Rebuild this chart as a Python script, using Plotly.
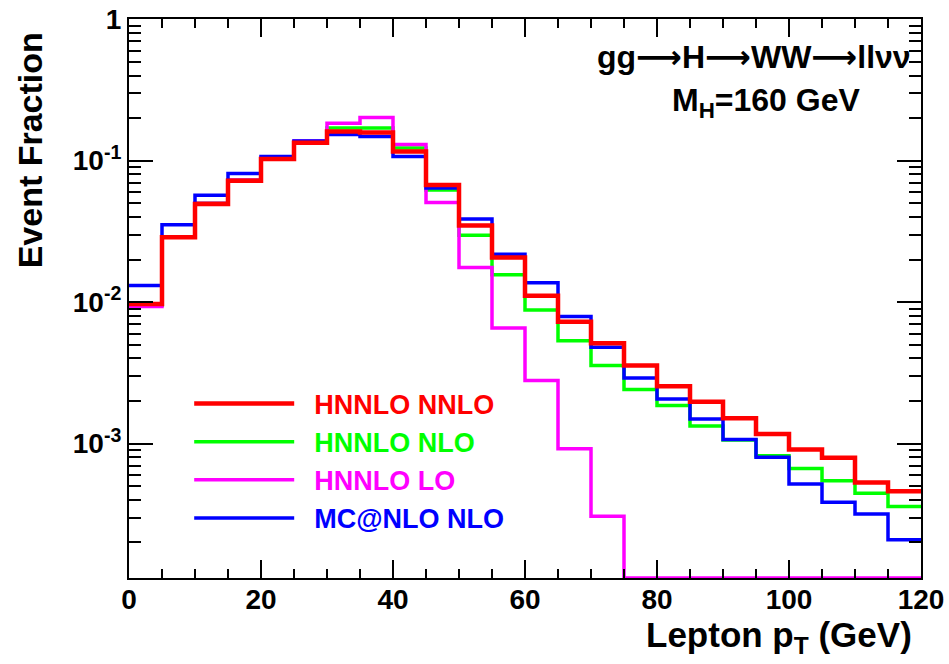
import numpy as np
import plotly.graph_objects as go

# ---- data ----
bin_edges = list(range(0, 125, 5))  # 0..120 GeV, 5 GeV bins

hnnlo_nnlo = [0.0097, 0.0287, 0.0494, 0.0722, 0.1027, 0.134, 0.161, 0.158, 0.116, 0.0673,
              0.0348, 0.0207, 0.0111, 0.00728, 0.00512, 0.00356, 0.00254, 0.00198, 0.00151,
              0.00117, 0.00091, 0.000793, 0.000532, 0.00046]
hnnlo_nlo = [0.0095, 0.029, 0.050, 0.073, 0.103, 0.136, 0.170, 0.170, 0.123, 0.062,
             0.0297, 0.0156, 0.0088, 0.00534, 0.00356, 0.00241, 0.00186, 0.00133, 0.00106,
             0.00082, 0.000668, 0.000547, 0.000445, 0.000359]
hnnlo_lo = [0.0093, 0.029, 0.050, 0.073, 0.104, 0.138, 0.1836, 0.202, 0.130, 0.0507,
            0.0176, 0.00657, 0.00279, 0.000918, 0.000306, 0, 0, 0, 0, 0, 0, 0, 0, 0]
mcnlo_nlo = [0.0131, 0.0353, 0.0569, 0.0813, 0.107, 0.138, 0.153, 0.148, 0.107, 0.064,
             0.0387, 0.0218, 0.0137, 0.0079, 0.0048, 0.00291, 0.00207, 0.00149, 0.00107,
             0.0008, 0.000519, 0.000385, 0.000318, 0.000209]

series_names = ["HNNLO NNLO", "HNNLO NLO", "HNNLO LO", "MC@NLO NLO"]
series_colors = ["#ff0000", "#00ff00", "#ff00ff", "#0000ff"]

y_tick_vals = [1e-3, 1e-2, 1e-1, 1]
y_tick_text = ["10<sup>-3</sup>", "10<sup>-2</sup>", "10<sup>-1</sup>", "1"]

YMIN_LOG = -3.95
YMAX_LOG = 0.0015
floor = 10 ** YMIN_LOG

def step(vals):
    v = [x if x > 0 else floor for x in vals]
    return bin_edges, v + [v[-1]]

fig = go.Figure()
data_map = {
    "HNNLO NNLO": hnnlo_nnlo,
    "HNNLO NLO": hnnlo_nlo,
    "HNNLO LO": hnnlo_lo,
    "MC@NLO NLO": mcnlo_nlo,
}
widths = {"HNNLO NNLO": 4.5, "HNNLO NLO": 3.5, "HNNLO LO": 3.5, "MC@NLO NLO": 3.5}
draw_order = ["HNNLO NLO", "HNNLO LO", "MC@NLO NLO", "HNNLO NNLO"]
for name in draw_order:
    i = series_names.index(name)
    xs, ys = step(data_map[name])
    fig.add_trace(go.Scatter(
        x=xs, y=ys, mode="lines", line=dict(shape="hv", color=series_colors[i], width=widths[name]),
        name=f'\u00a0\u00a0<span style="color:{series_colors[i]}">{name}</span>',
        legendrank=i + 1,
    ))

minor_y = [k * 10.0 ** n for n in range(-4, 0) for k in range(2, 10)]

font_family = "Liberation Sans, Arial, sans-serif"
fig.update_layout(
    width=949, height=664,
    margin=dict(l=129, r=28, t=19, b=86),
    paper_bgcolor="white", plot_bgcolor="white",
    font=dict(family=font_family, color="black"),
    showlegend=True,
    legend=dict(x=0.076, y=0.355, xanchor="left", yanchor="top",
                bgcolor="rgba(0,0,0,0)", borderwidth=0,
                font=dict(size=27, family=font_family, weight="bold"),
                itemwidth=100, tracegroupgap=0),
    xaxis=dict(range=[0, 120], showgrid=False, zeroline=False, automargin=False,
               showline=True, linecolor="black", linewidth=2, mirror="allticks",
               ticks="inside", tickmode="linear", tick0=0, dtick=20, ticklen=18,
               tickcolor="black", tickwidth=1.5, ticklabelstandoff=-5,
               tickfont=dict(size=28, family=font_family, weight="bold"),
               minor=dict(ticks="inside", dtick=5, ticklen=9, tickcolor="black", tickwidth=1.5)),
    yaxis=dict(type="log", range=[YMIN_LOG, YMAX_LOG], showgrid=False, zeroline=False,
               automargin=False,
               showline=True, linecolor="black", linewidth=2, mirror="allticks",
               ticks="inside", tickmode="array", tickvals=y_tick_vals, ticktext=y_tick_text,
               ticklen=24, tickcolor="black", tickwidth=1.5,
               tickfont=dict(size=28, family=font_family, weight="bold"),
               minor=dict(ticks="inside", tickmode="array", tickvals=minor_y, ticklen=12,
                          tickcolor="black", tickwidth=1.5)),
)

arrow = '<span style="font-family:DejaVu Sans">⟶</span>'
fig.add_annotation(text=f'gg{arrow}H{arrow}WW{arrow}llνν',
                   xref="paper", yref="paper", x=0.99, y=0.932,
                   xanchor="right", yanchor="middle", showarrow=False,
                   font=dict(size=32, family=font_family, color="black", weight="bold"))
fig.add_annotation(text="M<sub>H</sub>=160 GeV", xref="paper", yref="paper", x=0.925, y=0.85,
                   xanchor="right", yanchor="middle", showarrow=False,
                   font=dict(size=32, family=font_family, color="black", weight="bold"))
fig.add_annotation(text="Lepton p<sub>T</sub> (GeV)", xref="paper", yref="paper", x=0.991, y=-0.106,
                   xanchor="right", yanchor="middle", showarrow=False,
                   font=dict(size=35, family=font_family, color="black", weight="bold"))
fig.add_annotation(text="Event Fraction", xref="paper", yref="paper", x=-0.125, y=0.765,
                   xanchor="center", yanchor="middle", textangle=-90, showarrow=False,
                   font=dict(size=34, family=font_family, color="black", weight="bold"))

fig.write_html("out.html", post_script="document.body.style.margin='0';",
               config={"displayModeBar": False})
